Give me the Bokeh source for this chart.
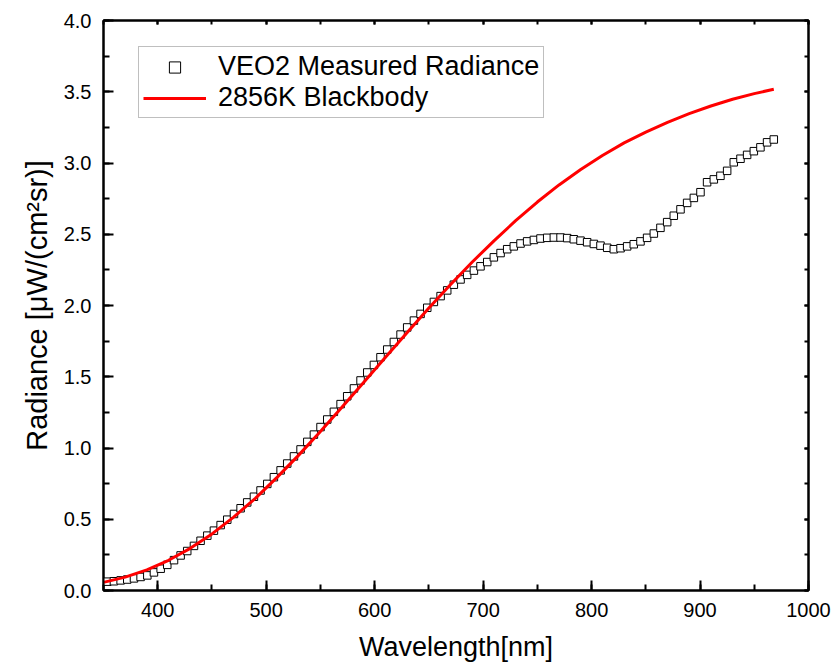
from bokeh.plotting import figure
from bokeh.models import (LinearAxis, SingleIntervalTicker, NumeralTickFormatter,
                          CustomJSTickFormatter, Legend, LegendItem, Range1d)
from bokeh.embed import file_html
from bokeh.resources import INLINE

# ---------------- data ----------------
wavelength_measured = [
    353.5, 359.6, 365.8, 371.9, 378.1, 384.2, 390.4, 396.5, 402.7, 408.8,
    415.0, 421.1, 427.2, 433.4, 439.5, 445.7, 451.8, 458.0, 464.1, 470.3,
    476.4, 482.5, 488.7, 494.8, 501.0, 507.1, 513.3, 519.4, 525.6, 531.7,
    537.9, 544.0, 550.1, 556.3, 562.4, 568.6, 574.7, 580.9, 587.0, 593.2,
    599.3, 605.4, 611.6, 617.7, 623.9, 630.0, 636.2, 642.3, 648.5, 654.6,
    660.8, 666.9, 673.0, 679.2, 685.3, 691.5, 697.6, 703.8, 709.9, 716.1,
    722.2, 728.3, 734.5, 740.6, 746.8, 752.9, 759.1, 765.2, 771.4, 777.5,
    783.6, 789.8, 795.9, 802.1, 808.2, 814.4, 820.5, 826.7, 832.8, 838.9,
    845.1, 851.2, 857.4, 863.5, 869.7, 875.8, 882.0, 888.1, 894.3, 900.4,
    906.5, 912.7, 918.8, 925.0, 931.1, 937.3, 943.4, 949.6, 955.7, 961.8,
    968.0]

radiance_measured = [
    0.062, 0.065, 0.071, 0.077, 0.085, 0.095, 0.106, 0.127, 0.153, 0.180,
    0.213, 0.246, 0.277, 0.313, 0.349, 0.385, 0.420, 0.459, 0.497, 0.537,
    0.577, 0.618, 0.658, 0.702, 0.748, 0.795, 0.843, 0.891, 0.941, 0.990,
    1.043, 1.094, 1.147, 1.200, 1.254, 1.308, 1.363, 1.418, 1.474, 1.530,
    1.583, 1.637, 1.691, 1.744, 1.796, 1.846, 1.894, 1.941, 1.984, 2.025,
    2.066, 2.106, 2.146, 2.183, 2.215, 2.245, 2.275, 2.305, 2.338, 2.368,
    2.395, 2.415, 2.435, 2.450, 2.460, 2.470, 2.475, 2.477, 2.477, 2.473,
    2.465, 2.455, 2.444, 2.432, 2.420, 2.405, 2.395, 2.402, 2.415, 2.430,
    2.450, 2.475, 2.505, 2.545, 2.585, 2.630, 2.675, 2.720, 2.755, 2.795,
    2.865, 2.885, 2.910, 2.945, 3.005, 3.030, 3.057, 3.083, 3.110, 3.145,
    3.165]

wavelength_bb = [350, 370, 390, 410, 430, 450, 470, 490, 510, 530, 550,
                 570, 590, 610, 630, 650, 670, 690, 710, 730, 750, 770,
                 790, 810, 830, 850, 870, 890, 910, 930, 950, 968]
radiance_bb = [0.057, 0.094, 0.145, 0.212, 0.296, 0.397, 0.515, 0.647,
               0.794, 0.950, 1.116, 1.287, 1.462, 1.637, 1.811, 1.982,
               2.147, 2.305, 2.454, 2.595, 2.726, 2.846, 2.955, 3.053,
               3.141, 3.217, 3.285, 3.346, 3.400, 3.447, 3.487, 3.517]

series_names = ["VEO2 Measured Radiance", "2856K Blackbody"]
x_label = "Wavelength[nm]"
y_label = "Radiance [\u03bcW/(cm\u00b2sr)]"

FONT = "Arial"

# ---------------- figure ----------------
p = figure(width=835, height=668,
           x_range=Range1d(350, 1000), y_range=Range1d(0, 4),
           output_backend="svg", toolbar_location=None,
           min_border_left=103, min_border_right=27,
           min_border_top=20, min_border_bottom=78,
           x_axis_label=x_label, y_axis_label=y_label)
p.background_fill_color = "white"
p.border_fill_color = "white"
p.xgrid.visible = False
p.ygrid.visible = False
p.outline_line_color = "black"
p.outline_line_width = 2

xt = SingleIntervalTicker(interval=100, num_minor_ticks=2)
yt = SingleIntervalTicker(interval=0.5, num_minor_ticks=2)

for ax, tk in ((p.xaxis[0], xt), (p.yaxis[0], yt)):
    ax.ticker = tk
    ax.axis_line_width = 2
    ax.axis_line_color = "black"
    ax.major_tick_in = 10
    ax.major_tick_out = 0
    ax.minor_tick_in = 6
    ax.minor_tick_out = 0
    ax.major_tick_line_width = 2
    ax.minor_tick_line_width = 2
    ax.major_label_text_font = FONT
    ax.major_label_text_font_size = "20px"
    ax.major_label_text_color = "black"
    ax.axis_label_text_font = FONT
    ax.axis_label_text_font_style = "normal"
    ax.axis_label_text_color = "black"
    ax.major_label_standoff = 12

p.xaxis[0].axis_label_text_font_size = "27px"
p.yaxis[0].axis_label_text_font_size = "29px"
p.xaxis[0].formatter = NumeralTickFormatter(format="0")
p.yaxis[0].formatter = NumeralTickFormatter(format="0.0")
p.xaxis[0].axis_label_standoff = 12
p.yaxis[0].axis_label_standoff = 8

empty = CustomJSTickFormatter(code="return ''")
for loc, tk in (("above", xt), ("right", yt)):
    ax = LinearAxis(ticker=tk, formatter=empty)
    ax.axis_line_width = 2
    ax.major_tick_in = 4
    ax.major_tick_out = 0
    ax.minor_tick_in = 4
    ax.minor_tick_out = 0
    ax.major_tick_line_width = 2
    ax.minor_tick_line_width = 2
    ax.major_label_standoff = 0
    p.add_layout(ax, loc)

# ---------------- glyphs ----------------
r_meas = p.scatter(wavelength_measured, radiance_measured, marker="square",
                   size=7.5, line_color="black", line_width=1,
                   fill_color="white")
r_bb = p.line(wavelength_bb, radiance_bb, line_color="#ff0000", line_width=3,
              line_join="round")

legend = Legend(items=[LegendItem(label=series_names[0], renderers=[r_meas]),
                       LegendItem(label=series_names[1], renderers=[r_bb])],
                location=(35, 472))
legend.border_line_color = "#808080"
legend.border_line_width = 1
legend.background_fill_color = "white"
legend.background_fill_alpha = 1
legend.label_text_font = FONT
legend.label_text_font_size = "27px"
legend.label_text_color = "black"
legend.padding = 4
legend.spacing = 0
legend.margin = 0
legend.glyph_width = 63
legend.glyph_height = 28
legend.label_height = 28
legend.label_standoff = 12
p.add_layout(legend, "center")

open("out.html", "w").write(file_html(p, INLINE))
